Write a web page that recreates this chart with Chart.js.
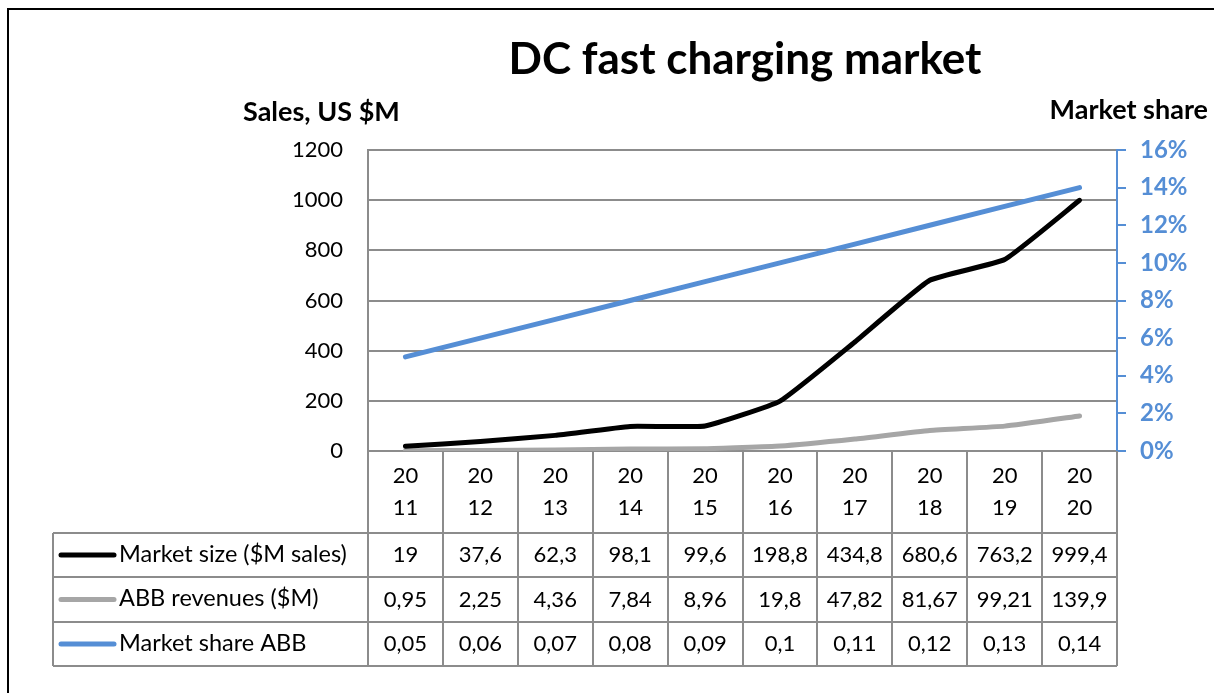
<!DOCTYPE html>
<html lang="en">
<head>
  <meta charset="UTF-8">
  <title>DC fast charging market</title>
  <script src="https://cdn.jsdelivr.net/npm/chart.js@4.4.0/dist/chart.umd.min.js"></script>
  <style>
    body { margin: 0; background: #fff; }
    #wrap { width: 1214px; height: 693px; }
  </style>
</head>
<body>
  <div id="wrap"><canvas id="myChart" width="1214" height="693"></canvas></div>

  <script>
    const years = ['2011', '2012', '2013', '2014', '2015', '2016', '2017', '2018', '2019', '2020'];
    const marketSize = [19, 37.6, 62.3, 98.1, 99.6, 198.8, 434.8, 680.6, 763.2, 999.4];
    const abbRevenues = [0.95, 2.25, 4.36, 7.84, 8.96, 19.8, 47.82, 81.67, 99.21, 139.9];
    const marketShare = [0.05, 0.06, 0.07, 0.08, 0.09, 0.1, 0.11, 0.12, 0.13, 0.14];
    const seriesNames = ['Market size ($M sales)', 'ABB revenues ($M)', 'Market share ABB'];

    const FONT = 'Lato, "Open Sans", sans-serif';
    const BLUE = '#558ed5';
    const GRAY = '#a6a6a6';
    const GRID = '#8c8c8c';

    const fmt = v => String(v).replace('.', ',');

    // titles, outer frame and the data table under the plot
    const tablePlugin = {
      id: 'tablePlugin',
      afterDraw(chart) {
        const ctx = chart.ctx;
        const area = chart.chartArea;
        const x = chart.scales.x;
        const colW = (area.right - area.left) / years.length;
        const rows = [area.bottom, 533, 577, 622, 666];
        const legendLeft = 53;

        ctx.save();
        // outer frame (only left and top edges are inside the picture)
        ctx.strokeStyle = '#000';
        ctx.lineWidth = 2;
        ctx.strokeRect(8, 9, 1300, 800);

        // titles
        ctx.fillStyle = '#000';
        ctx.textBaseline = 'middle';
        ctx.textAlign = 'center';
        ctx.font = 'bold 44px ' + FONT;
        ctx.fillText('DC fast charging market', 745, 60);
        ctx.font = 'bold 27px ' + FONT;
        ctx.textAlign = 'left';
        ctx.fillText('Sales, US $M', 243, 112);
        ctx.textAlign = 'right';
        ctx.fillText('Market share', 1208, 110);

        // table grid
        ctx.strokeStyle = GRID;
        ctx.lineWidth = 2;
        ctx.beginPath();
        for (let i = 0; i <= years.length; i++) {
          const cx = Math.round(area.left + i * colW);
          ctx.moveTo(cx, rows[0]);
          ctx.lineTo(cx, rows[4]);
        }
        for (let r = 1; r < rows.length; r++) {
          ctx.moveTo(legendLeft, rows[r]);
          ctx.lineTo(area.right, rows[r]);
        }
        ctx.moveTo(legendLeft, rows[1]);
        ctx.lineTo(legendLeft, rows[4]);
        ctx.stroke();

        // year header, split in two lines like the narrow Excel cells
        ctx.fillStyle = '#000';
        ctx.textAlign = 'center';
        ctx.font = '22px ' + FONT;
        years.forEach((y, i) => {
          const cx = x.getPixelForValue(i);
          ctx.fillText(y.slice(0, 2), cx, 476);
          ctx.fillText(y.slice(2), cx, 508);
        });

        // data rows
        const series = [marketSize, abbRevenues, marketShare];
        const colors = ['#000', GRAY, BLUE];
        series.forEach((vals, r) => {
          const cy = (rows[r + 1] + rows[r + 2]) / 2 - 1;
          ctx.textAlign = 'center';
          ctx.fillStyle = '#000';
          ctx.font = '22px ' + FONT;
          vals.forEach((v, i) => ctx.fillText(fmt(v), x.getPixelForValue(i), cy + 1));
          // legend key
          ctx.strokeStyle = colors[r];
          ctx.lineWidth = 5;
          ctx.lineCap = 'round';
          ctx.beginPath();
          ctx.moveTo(61, cy + 1);
          ctx.lineTo(114, cy + 1);
          ctx.stroke();
          ctx.textAlign = 'left';
          ctx.font = '23.5px ' + FONT;
          ctx.fillText(seriesNames[r], 119, cy);
        });
        ctx.restore();
      }
    };

    const ctx = document.getElementById('myChart').getContext('2d');
    const myChart = new Chart(ctx, {
      type: 'line',
      data: {
        labels: years,
        datasets: [
          {
            label: seriesNames[0],
            data: marketSize,
            yAxisID: 'y',
            borderColor: '#000',
            borderWidth: 5,
            tension: 0.12,
            pointRadius: 0,
            borderCapStyle: 'round',
            borderJoinStyle: 'round'
          },
          {
            label: seriesNames[1],
            data: abbRevenues,
            yAxisID: 'y',
            borderColor: GRAY,
            borderWidth: 5,
            tension: 0.12,
            pointRadius: 0,
            borderCapStyle: 'round',
            borderJoinStyle: 'round'
          },
          {
            label: seriesNames[2],
            data: marketShare,
            yAxisID: 'y1',
            borderColor: BLUE,
            borderWidth: 5,
            tension: 0,
            pointRadius: 0,
            borderCapStyle: 'round',
            borderJoinStyle: 'round'
          }
        ]
      },
      options: {
        responsive: false,
        animation: false,
        layout: { padding: { left: 0, right: 0, top: 150, bottom: 242 } },
        plugins: {
          legend: { display: false },
          tooltip: { enabled: false }
        },
        scales: {
          x: {
            display: false,
            offset: true
          },
          y: {
            position: 'left',
            min: 0,
            max: 1200,
            ticks: {
              stepSize: 200,
              padding: 25,
              color: '#000',
              font: { family: FONT, size: 22 },
              callback: v => String(v)
            },
            grid: { color: GRID, lineWidth: 2, drawTicks: false },
            border: { color: GRID, width: 2 },
            afterFit: s => { s.width = 368; }
          },
          y1: {
            position: 'right',
            min: 0,
            max: 0.16,
            ticks: {
              stepSize: 0.02,
              padding: 14,
              color: BLUE,
              font: { family: FONT, size: 24, weight: 'bold' },
              callback: v => Math.round(v * 100) + '%'
            },
            grid: { drawOnChartArea: false, color: BLUE, tickLength: 9, lineWidth: 2 },
            border: { color: BLUE, width: 2 },
            afterFit: s => { s.width = 97; }
          }
        }
      },
      plugins: [tablePlugin]
    });
  </script>
</body>
</html>
